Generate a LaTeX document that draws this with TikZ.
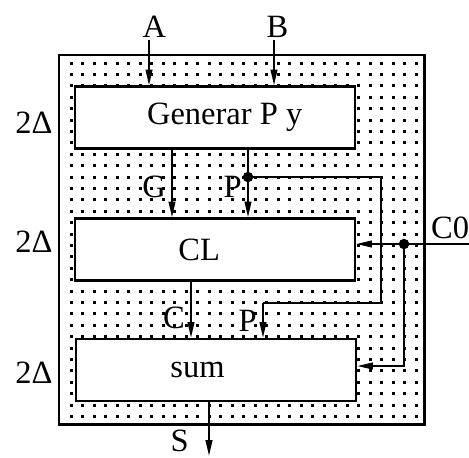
\documentclass[tikz,border=0pt]{standalone}
\usepackage{fontspec}
\setmainfont{Liberation Serif}
\usetikzlibrary{arrows.meta,positioning,calc}

\begin{document}
\begin{tikzpicture}[
    x=0.02cm, y=-0.02cm,
    >={Triangle[length=9pt,width=3.8pt]},
    block/.style={
        draw,
        line width=1.3pt,
        fill=white,
        minimum width=5.6cm,
        minimum height=1.24cm,
        font=\fontsize{18.5}{22}\selectfont
    },
    sig/.style={->, line width=1.1pt},
    wire/.style={line width=1.1pt},
    lbl/.style={font=\fontsize{18.5}{22}\selectfont, inner sep=1pt},
    junc/.style={circle, fill, inner sep=0pt, minimum size=6pt}
]
\useasboundingbox (0,0) rectangle (469,457);

% dotted chip area
\begin{scope}
    \clip (59,55) rectangle (424,424);
    \foreach \i in {0,...,30}
        \foreach \j in {0,...,31}
            \fill (71+\i*11.5-1.5, 63+\j*11.4-1.5) rectangle ++(3,3);
\end{scope}
\draw[line width=1.7pt] (59,55) rectangle (424,424);

% blocks
\node[block] (gen) at (215,117.5) {\hspace*{11pt}Generar P y};
\node[block] (cl)  at (215,249.5) {CL\hspace*{18pt}};
\node[block] (sum) at (216,370)   {sum\hspace*{21pt}};

\node[lbl] (d1) at (34,123) {2Δ};
\node[lbl] (d2) at (34,242) {2Δ};
\node[lbl] (d3) at (34,373) {2Δ};

% inputs A, B
\coordinate (ain) at (149,40);
\coordinate (bin) at (274,40);
\node[lbl, above=0pt of ain, xshift=3pt] (alab) {A};
\node[lbl, above=0pt of bin, xshift=2pt] (blab) {B};
\draw[sig] (ain) -- (gen.north -| ain);
\draw[sig] (bin) -- (gen.north -| bin);

% G and P
\coordinate (gx) at (172,0);
\coordinate (pj) at (248,177);
\draw[sig] (gen.south -| gx) -- node[lbl, left=2pt, pos=0.55] {G} (cl.north -| gx);
\draw[sig] (gen.south -| pj) -- node[lbl, left=2pt, pos=0.55] {P} (cl.north -| pj);
\node[junc] at (pj) {};

\coordinate (pturn) at (381,303);
\coordinate (pdown) at (263,303);
\draw[wire] (pj) -| (pturn) -- (pdown);
\draw[sig] (pdown) -- node[lbl, left=2pt] {P} (sum.north -| pdown);

% carry in
\coordinate (cin) at (469,244);
\coordinate (cj) at (404,244);
\coordinate (cs) at (404,366);
\node[lbl, anchor=west] (c0) at (429,228) {C0};
\draw[sig] (cin) -- (cl.east |- cin);
\draw[sig] (cj) -- (cs) -- (sum.east |- cs);
\node[junc] at (cj) {};

% C and S
\coordinate (cx) at (191,0);
\draw[sig] (cl.south -| cx) -- node[lbl, left=2pt, pos=0.65] {C} (sum.north -| cx);
\coordinate (sout) at (209,456);
\draw[sig] (sum.south -| sout) -- node[lbl, left=10pt, pos=0.72] {S} (sout);

\end{tikzpicture}
\end{document}
